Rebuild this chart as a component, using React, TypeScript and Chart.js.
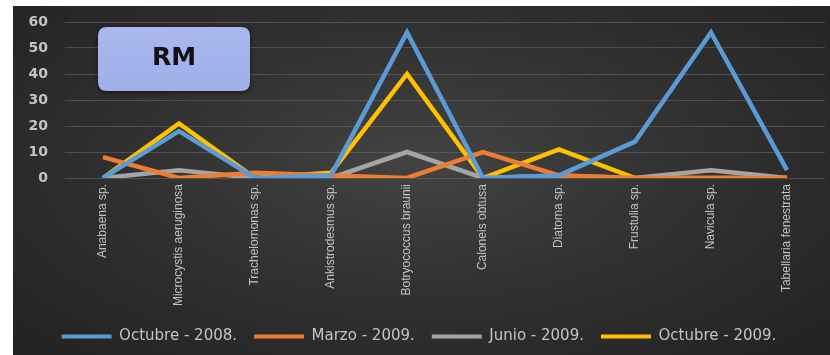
import React, { useEffect, useRef } from "react";
import { Chart, registerables } from "chart.js";

Chart.register(...registerables);

const categories = [
  "Anabaena sp.",
  "Microcystis aeruginosa",
  "Trachelomonas sp.",
  "Ankistrodesmus sp.",
  "Botryococcus braunii",
  "Caloneis obtusa",
  "Diatoma sp.",
  "Frustulia sp.",
  "Navicula sp.",
  "Tabellaria fenestrata",
];

const octubre2008 = [0, 18, 0, 1, 56, 0, 1, 14, 56, 3];
const marzo2009 = [8, 0, 2, 1, 0, 10, 1, 0, 0, 0];
const junio2009 = [0, 3, 0, 0, 10, 0, 1, 0, 3, 0];
const octubre2009 = [0, 21, 0, 2, 40, 0, 11, 0, 0, 0];

const seriesNames = ["Octubre - 2008.", "Marzo - 2009.", "Junio - 2009.", "Octubre - 2009."];
const seriesColors = ["#5b9bd5", "#ed7d31", "#a5a5a5", "#ffc000"];
const seriesValues = [octubre2008, marzo2009, junio2009, octubre2009];

const yTicks = [0, 10, 20, 30, 40, 50, 60];
const titleText = "RM";

const rmBoxPlugin = {
  id: "rmBox",
  afterDraw(chart: any) {
    const ctx = chart.ctx;
    const area = chart.chartArea;
    const x = area.left + 33;
    const y = area.top + 5;
    const w = 152;
    const h = 64;
    const r = 9;
    ctx.save();
    ctx.shadowColor = "rgba(0,0,0,0.6)";
    ctx.shadowBlur = 4;
    ctx.shadowOffsetY = 1;
    const g = ctx.createLinearGradient(0, y, 0, y + h);
    g.addColorStop(0, "#a9b8ee");
    g.addColorStop(1, "#9eafe9");
    ctx.fillStyle = g;
    ctx.beginPath();
    ctx.moveTo(x + r, y);
    ctx.lineTo(x + w - r, y);
    ctx.quadraticCurveTo(x + w, y, x + w, y + r);
    ctx.lineTo(x + w, y + h - r);
    ctx.quadraticCurveTo(x + w, y + h, x + w - r, y + h);
    ctx.lineTo(x + r, y + h);
    ctx.quadraticCurveTo(x, y + h, x, y + h - r);
    ctx.lineTo(x, y + r);
    ctx.quadraticCurveTo(x, y, x + r, y);
    ctx.closePath();
    ctx.fill();
    ctx.shadowColor = "transparent";
    ctx.fillStyle = "#111";
    ctx.font = "bold 25px 'DejaVu Sans', Arial, sans-serif";
    ctx.textAlign = "center";
    ctx.textBaseline = "middle";
    ctx.fillText(titleText, x + w / 2, y + h / 2 - 1);
    ctx.restore();
  },
};

export default function App() {
  const ref = useRef<HTMLCanvasElement>(null);
  useEffect(() => {
    document.body.style.margin = "0";
    const chart = new Chart(ref.current as HTMLCanvasElement, {
      type: "line",
      data: {
        labels: categories,
        datasets: seriesValues.map((vals, i) => ({
          label: seriesNames[i],
          data: vals,
          borderColor: seriesColors[i],
          backgroundColor: seriesColors[i],
          borderWidth: 4.5,
          pointRadius: 0,
          tension: 0,
          borderJoinStyle: "miter" as const,
        })),
      },
      options: {
        responsive: false,
        animation: false,
        layout: { padding: { top: 16, right: 5, bottom: 1, left: 0 } },
        plugins: {
          tooltip: { enabled: false },
          legend: {
            position: "bottom",
            labels: {
              color: "#c4c4c4",
              font: { family: "'DejaVu Sans', sans-serif", size: 15 },
              boxWidth: 50,
              boxHeight: 4,
              padding: 17,
              generateLabels(chart: any) {
                return chart.data.datasets.map((ds: any, i: number) => ({
                  text: ds.label,
                  fillStyle: ds.borderColor,
                  strokeStyle: ds.borderColor,
                  lineWidth: 0,
                  fontColor: "#c4c4c4",
                  hidden: false,
                  datasetIndex: i,
                }));
              },
            },
          },
        },
        scales: {
          x: {
            offset: true,
            grid: { display: false, drawTicks: false },
            border: { display: false },
            ticks: {
              color: "#c4c4c4",
              font: { family: "'Liberation Sans Narrow', 'Liberation Sans', sans-serif", size: 12 },
              maxRotation: 90,
              minRotation: 90,
              autoSkip: false,
              padding: 6,
            },
            afterFit(scale: any) {
              scale.height = 134;
            },
          },
          y: {
            min: 0,
            max: 60,
            afterBuildTicks(scale: any) {
              scale.ticks = yTicks.map((v) => ({ value: v }));
            },
            grid: {
              color: "rgba(120,120,120,0.45)",
              lineWidth: 1,
              drawTicks: true,
              tickLength: 15,
              tickColor: "transparent",
            },
            border: { display: false },
            ticks: {
              color: "#c4c4c4",
              font: { family: "'DejaVu Sans', sans-serif", size: 14, weight: "bold" },
              padding: 2,
            },
            afterFit(scale: any) {
              scale.width = 52;
            },
          },
        },
      },
      plugins: [rmBoxPlugin],
    } as any);
    return () => chart.destroy();
  }, []);

  return (
    <div style={{ position: "absolute", left: 0, top: 0, width: 830, height: 355, background: "#fff" }}>
      <div
        style={{
          position: "absolute",
          left: 13,
          top: 6,
          width: 817,
          height: 349,
          background: "radial-gradient(ellipse at 50% 45%, #434343 0%, #323232 45%, #222 100%)",
        }}
      >
        <canvas ref={ref} width={817} height={349} style={{ display: "block" }} />
      </div>
    </div>
  );
}
